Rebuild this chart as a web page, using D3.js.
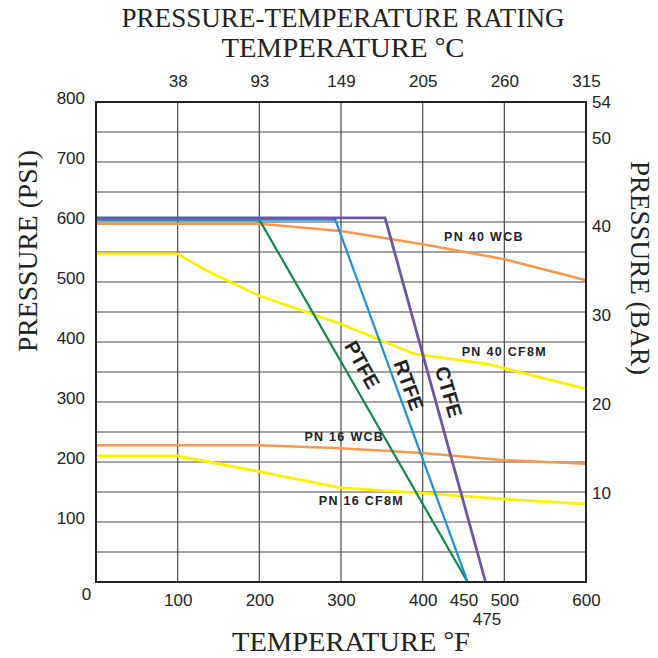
<!DOCTYPE html>
<html>
<head>
<meta charset="utf-8">
<script src="https://cdn.jsdelivr.net/npm/d3@7"></script>
<style>
body { margin: 0; background: #fff; }
svg { display: block; font-family: "Liberation Sans", Arial, sans-serif; }
.axis path, .axis line { display: none; }
.axis text { font-size: 17px; fill: #222; font-family: "Liberation Sans", Arial, sans-serif; }
.serif { font-family: "Liberation Serif", "Times New Roman", serif; fill: #222; font-size: 27px; }
.lbl { font-weight: bold; font-size: 12.5px; letter-spacing: 1.3px; fill: #222; }
.big { font-weight: bold; font-size: 20px; fill: #222; }
</style>
</head>
<body>
<div id="chart"></div>
<script>
// DATA (temperature in F, pressure in psi)
const fTicks = [0, 100, 200, 300, 400, 450, 500, 600];
const cPos = [100, 200, 300, 400, 500, 600];
const cLabels = ["38", "93", "149", "205", "260", "315"];
const psiTicks = [100, 200, 300, 400, 500, 600, 700, 800];
const barTicks = [10, 20, 30, 40, 50, 54];

const pn40wcb = [[0, 597], [200, 597], [300, 585], [400, 563], [500, 538], [600, 503]];
const pn40cf8m = [[0, 547], [100, 547], [135, 519], [200, 477], [300, 430], [390, 380], [480, 363], [600, 322]];
const pn16wcb = [[0, 228], [200, 228], [300, 223], [400, 215], [500, 203], [600, 197]];
const pn16cf8m = [[0, 210], [100, 210], [200, 184], [300, 157], [400, 148], [500, 138], [600, 130]];
const ptfe = [[0, 604], [200, 604], [455, 0]];
const rtfe = [[0, 604], [293, 604], [455, 0]];
const ctfe = [[0, 607], [354, 607], [477, 0]];

// SVG
const W = 658, H = 658;
const margin = {top: 102, left: 96, right: 72, bottom: 76};

const svg = d3.select("#chart").append("svg")
    .attr("width", W)
    .attr("height", H);

// SCALES
const x = d3.scaleLinear().domain([0, 600]).range([margin.left, W - margin.right]);
const y = d3.scaleLinear().domain([0, 800]).range([H - margin.bottom, margin.top]);
const yBar = d3.scaleLinear().domain([0, 54]).range([H - margin.bottom, margin.top]);

// GRID
svg.append("g").selectAll("line")
    .data(d3.range(50, 800, 50))
    .enter().append("line")
    .attr("x1", x(0)).attr("x2", x(600))
    .attr("y1", d => y(d)).attr("y2", d => y(d))
    .attr("stroke", "#4a4a4a").attr("stroke-width", 1.2);

svg.append("g").selectAll("line")
    .data(cPos.slice(0, -1))
    .enter().append("line")
    .attr("y1", y(0)).attr("y2", y(800))
    .attr("x1", d => x(d)).attr("x2", d => x(d))
    .attr("stroke", "#4a4a4a").attr("stroke-width", 1.2);

// LINES
const line = d3.line().x(d => x(d[0])).y(d => y(d[1]));

const series = [
    {data: pn16wcb, color: "#f7994a", w: 2.5},
    {data: pn16cf8m, color: "#fff200", w: 2.8},
    {data: pn40wcb, color: "#f7994a", w: 2.5},
    {data: pn40cf8m, color: "#fff200", w: 2.8},
    {data: ptfe, color: "#12874b", w: 2.2},
    {data: rtfe, color: "#1c8fe0", w: 2.2},
    {data: ctfe, color: "#6b57a6", w: 2.8}
];

svg.append("g").selectAll("path")
    .data(series)
    .enter().append("path")
    .attr("d", d => line(d.data))
    .attr("fill", "none")
    .attr("stroke", d => d.color)
    .attr("stroke-width", d => d.w);

// BORDER
svg.append("rect")
    .attr("x", x(0)).attr("y", y(800))
    .attr("width", x(600) - x(0))
    .attr("height", y(0) - y(800))
    .attr("fill", "none")
    .attr("stroke", "#222")
    .attr("stroke-width", 2);

// AXES
svg.append("g")
    .attr("class", "axis")
    .attr("transform", `translate(0,${y(0)})`)
    .call(d3.axisBottom(x).tickValues(fTicks).tickSize(0).tickPadding(12))
    .selectAll("text")
    .attr("dx", d => d == 0 ? -10 : 0)
    .attr("dy", d => d == 0 ? "0.35em" : "0.71em");

svg.append("text")
    .attr("x", x(475) + 3)
    .attr("y", y(0) + 43)
    .attr("text-anchor", "middle")
    .style("font-size", "17px").style("fill", "#222")
    .text("475");

svg.append("g")
    .attr("class", "axis")
    .attr("transform", `translate(0,${y(800)})`)
    .call(d3.axisTop(x).tickValues(cPos).tickSize(0).tickPadding(15)
        .tickFormat((d, i) => cLabels[i]));

svg.append("g")
    .attr("class", "axis")
    .attr("transform", `translate(${x(0)},0)`)
    .call(d3.axisLeft(y).tickValues(psiTicks).tickSize(0).tickPadding(11))
    .selectAll("text").attr("dy", "0.1em");

svg.append("g")
    .attr("class", "axis")
    .attr("transform", `translate(${x(600)},0)`)
    .call(d3.axisRight(yBar).tickValues(barTicks).tickSize(0).tickPadding(6));

// TITLES
svg.append("text").attr("class", "serif")
    .attr("x", 343).attr("y", 27)
    .attr("text-anchor", "middle")
    .attr("textLength", 443).attr("lengthAdjust", "spacingAndGlyphs")
    .text("PRESSURE-TEMPERATURE RATING");

function degTitle(xc, yb, len, main, unit) {
    const t = svg.append("text").attr("class", "serif")
        .attr("x", xc).attr("y", yb)
        .attr("text-anchor", "middle")
        .attr("textLength", len).attr("lengthAdjust", "spacingAndGlyphs");
    t.append("tspan").text(main + " ");
    t.append("tspan").attr("dy", -3).style("font-size", "25px").text("°");
    t.append("tspan").attr("dy", 3).text(unit);
}
degTitle(343, 57, 243, "TEMPERATURE", "C");
degTitle(351, 651, 238, "TEMPERATURE", "F");

svg.append("text").attr("class", "serif")
    .attr("transform", "translate(37,251) rotate(-90)")
    .attr("text-anchor", "middle")
    .attr("textLength", 202).attr("lengthAdjust", "spacingAndGlyphs")
    .text("PRESSURE (PSI)");

svg.append("text").attr("class", "serif")
    .attr("transform", "translate(631,268) rotate(90)")
    .attr("text-anchor", "middle")
    .attr("textLength", 214).attr("lengthAdjust", "spacingAndGlyphs")
    .text("PRESSURE (BAR)");

// CURVE LABELS
const curveLabels = [
    {t: "PN 40 WCB", f: 475, p: 568},
    {t: "PN 40 CF8M", f: 500, p: 377},
    {t: "PN 16 WCB", f: 304, p: 235},
    {t: "PN 16 CF8M", f: 325, p: 128}
];
svg.append("g").selectAll("text")
    .data(curveLabels)
    .enter().append("text")
    .attr("class", "lbl")
    .attr("x", d => x(d.f)).attr("y", d => y(d.p))
    .attr("text-anchor", "middle")
    .text(d => d.t);

const matLabels = [
    {t: "PTFE", f: 326, p: 362, r: 61},
    {t: "RTFE", f: 383, p: 328, r: 70},
    {t: "CTFE", f: 432, p: 317, r: 74}
];
svg.append("g").selectAll("text")
    .data(matLabels)
    .enter().append("text")
    .attr("class", "big")
    .attr("text-anchor", "middle")
    .attr("dy", "0.35em")
    .attr("transform", d => `translate(${x(d.f)},${y(d.p)}) rotate(${d.r})`)
    .text(d => d.t);
</script>
</body>
</html>
